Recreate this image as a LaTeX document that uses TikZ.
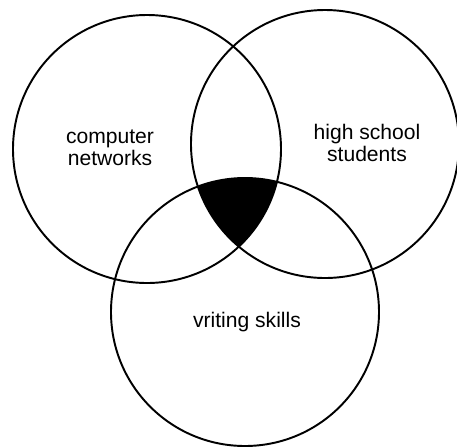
\documentclass[tikz,border=0pt]{standalone}
\usepackage{fontspec}
\setmainfont{Liberation Sans}
\usepackage{tikz}
\usepackage{xcolor}
\usetikzlibrary{positioning}

\tikzset{setlabel/.style={align=center,font=\fontsize{12}{12.5}\selectfont}}

\begin{document}
\begin{tikzpicture}
\useasboundingbox (0,0) rectangle (9.14,-8.94);
\begin{scope}
\clip (2.94,-2.98) circle (2.68cm);
\clip (6.50,-2.88) circle (2.68cm);
\fill[black] (4.90,-6.24) circle (2.68cm);
\end{scope}
\draw[line width=1.1pt](2.94,-2.98) circle (2.68cm);
\draw[line width=1.1pt](6.50,-2.88) circle (2.68cm);
\draw[line width=1.1pt](4.90,-6.24) circle (2.68cm);
\node[setlabel] (net) at (2.20,-2.96) {computer\\networks};
\node[setlabel] (hss) at (7.34,-2.86) {high school\\students};
\node[setlabel] (wri) at (4.94,-6.44) {vriting skills};
\end{tikzpicture}
\end{document}
